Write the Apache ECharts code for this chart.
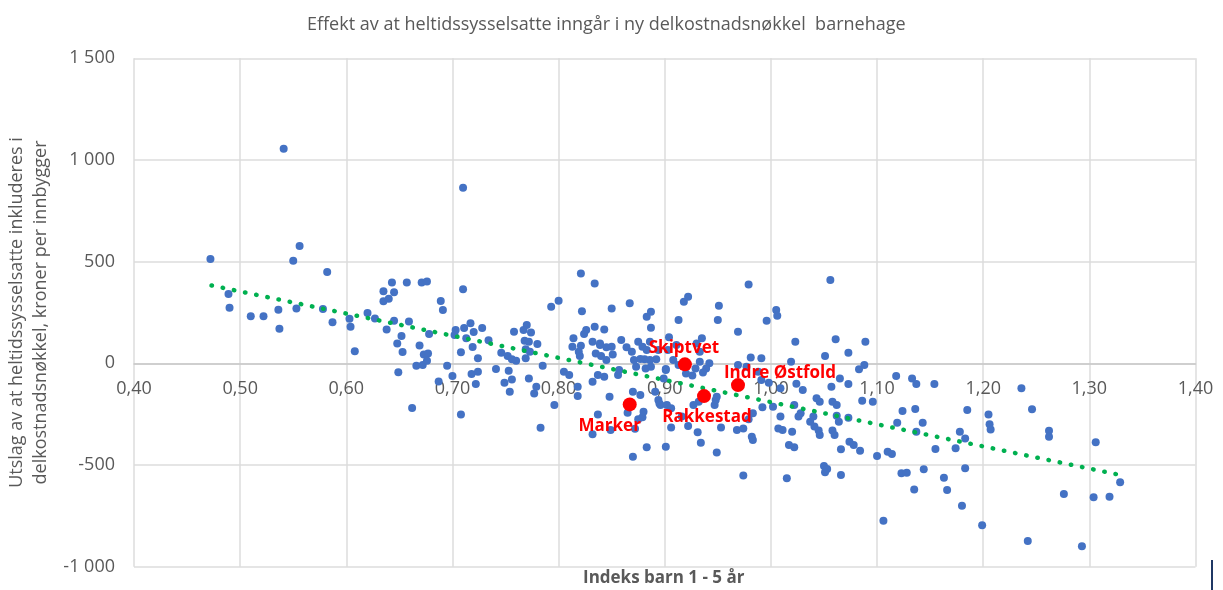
<!DOCTYPE html>
<html>
<head>
<meta charset="utf-8">
<script src="https://cdn.jsdelivr.net/npm/echarts@6/dist/echarts.min.js"></script>
<style>
  html, body { margin: 0; padding: 0; background: #fff; }
  #chart { width: 1223px; height: 590px; }
</style>
</head>
<body>
<div id="chart"></div>
<script>
// indeks barn 1-5 år, utslag kr per innbygger
const kommuner = [
  [0.472, 513], [0.489, 341], [0.490, 273], [0.510, 231], [0.522, 231], [0.536, 264],
  [0.537, 170], [0.541, 1055], [0.550, 505], [0.556, 577], [0.553, 270], [0.578, 267],
  [0.582, 449], [0.587, 202], [0.603, 219], [0.604, 180], [0.608, 60], [0.620, 247],
  [0.627, 221], [0.635, 354], [0.635, 305], [0.640, 318], [0.643, 398], [0.645, 349],
  [0.638, 167], [0.645, 209], [0.657, 398], [0.659, 206], [0.652, 134], [0.648, 98],
  [0.653, 56], [0.649, -44], [0.662, -220], [0.671, 398], [0.676, 403], [0.678, 144],
  [0.669, 88], [0.673, 44], [0.677, 49], [0.666, -12], [0.672, -8], [0.676, 13],
  [0.689, 306], [0.691, 262], [0.687, -89], [0.695, -12], [0.710, 863],
  [0.710, 364], [0.703, 164], [0.711, 174], [0.717, 197], [0.720, 154], [0.728, 174],
  [0.713, 123], [0.702, 139], [0.708, 54], [0.719, 80], [0.724, 25], [0.734, 113],
  [0.700, -62], [0.718, -53], [0.724, -41], [0.722, -102], [0.708, -251], [0.741, -28],
  [0.746, 52], [0.752, 36], [0.756, 20], [0.753, -36], [0.749, -95], [0.756, -79],
  [0.754, -140], [0.758, 155], [0.760, 13], [0.770, 188], [0.767, 164], [0.774, 152],
  [0.768, 111], [0.772, 106], [0.780, 95], [0.769, 69], [0.773, 57], [0.769, 25],
  [0.785, -12], [0.772, -74], [0.779, -115], [0.777, -148], [0.783, -317], [0.796, -205],
  [0.793, 278], [0.800, 308],
  [0.821, 442], [0.834, 393], [0.822, 256], [0.850, 270], [0.867, 295], [0.826, 164],
  [0.834, 180], [0.843, 167], [0.824, 144], [0.814, 123], [0.813, 82], [0.821, 87],
  [0.819, 57], [0.832, 106], [0.839, 90], [0.845, 79], [0.835, 49], [0.840, 36],
  [0.851, 44], [0.850, 82], [0.859, 115], [0.864, 79], [0.869, 57], [0.875, 106],
  [0.805, -41], [0.810, -57], [0.837, -57], [0.832, -90], [0.843, -66], [0.873, -17],
  [0.856, -57], [0.848, -164], [0.870, -140], [0.877, -156], [0.818, -115], [0.818, -161],
  [0.832, -349], [0.837, -251], [0.849, -328], [0.887, 254], [0.883, 229], [0.887, 175],
  [0.879, 82], [0.881, 20], [0.887, -17], [0.892, 20], [0.894, 65], [0.865, -243],
  [0.875, -275], [0.879, -265], [0.880, -238], [0.883, -413], [0.870, -459], [0.895, -197],
  [0.877, 21], [0.886, 16], [0.882, -25], [0.857, -33], [0.891, -140], [0.894, -180],
  [0.872, -322], [0.820, 36], [0.839, 98], [0.845, 16], [0.886, 106], [0.883, 65],
  [0.871, 16],
  [0.901, -28], [0.908, 16], [0.904, 128], [0.903, 65], [0.911, 90], [0.913, -8],
  [0.913, 213], [0.918, 303], [0.922, 327], [0.930, 98], [0.935, 123], [0.942, 0],
  [0.920, -50], [0.926, -60], [0.929, -25], [0.933, 8], [0.939, -25], [0.936, -45],
  [0.933, 57],
  [0.951, 283], [0.950, 213], [0.969, 155], [0.979, 388], [0.969, -8], [0.981, 29],
  [0.991, 25], [0.996, 209], [0.899, -74], [0.901, -33], [0.896, -205], [0.902, -205],
  [0.906, -221], [0.906, -315], [0.901, -410], [0.916, -262], [0.922, -308], [0.931, -339],
  [0.934, -390], [0.949, -439], [0.953, -315], [0.932, -189], [0.927, -205], [0.947, -205],
  [0.948, -180], [0.949, -164], [0.968, -328], [0.974, -320], [0.982, -361], [0.983, -377],
  [0.974, -551], [0.979, -275], [0.983, -246], [0.977, -17], [0.988, -41], [0.992, -216],
  [0.991, -82], [0.998, -95],
  [1.005, 262], [1.006, 234], [1.023, 106], [1.051, 36], [1.019, 8], [1.002, -213],
  [1.009, -262], [1.007, -320], [1.011, -328], [1.020, -336], [1.017, -402], [1.022, -413],
  [1.015, -565], [1.024, -100], [1.009, -123], [1.030, -131], [1.028, -246], [1.026, -262],
  [1.022, -205], [1.037, -287], [1.041, -310], [1.045, -330], [1.046, -352], [1.043, -172],
  [1.046, -189], [1.040, -262], [1.058, -330], [1.060, -352], [1.058, -189], [1.062, -205],
  [1.056, 410], [1.061, 119], [1.089, 106], [1.073, 52], [1.088, -8], [1.083, -29],
  [1.065, -74], [1.057, -115], [1.073, -102], [1.086, -184], [1.096, -189], [1.062, -258],
  [1.073, -267], [1.064, -287], [1.050, -505], [1.053, -520], [1.051, -535], [1.066, -549],
  [1.066, -423], [1.074, -385], [1.078, -402], [1.084, -430], [1.100, -456], [1.110, -435],
  [1.114, -446], [1.106, -774],
  [1.118, -62], [1.133, -74], [1.137, -102], [1.154, -102], [1.236, -123], [1.124, -234],
  [1.136, -225], [1.119, -292], [1.143, -292], [1.185, -230], [1.205, -251], [1.206, -300],
  [1.207, -325], [1.246, -226], [1.262, -331], [1.262, -361], [1.306, -388], [1.276, -642],
  [1.304, -659], [1.319, -656], [1.329, -585], [1.293, -900], [1.242, -874], [1.199, -796],
  [1.180, -700], [1.183, -516], [1.178, -336], [1.183, -369], [1.163, -562], [1.166, -623],
  [1.144, -521], [1.135, -620], [1.123, -541], [1.128, -538], [1.155, -421], [1.174, -418],
  [1.137, -336]
]

const markerteNavn = ['Skiptvet', 'Indre Østfold', 'Rakkestad', 'Marker']
const markerteX = [0.919, 0.969, 0.937, 0.867]
const markerteY = [-5, -107, -161, -202]
const etikettForskyvning = [[-1, -16], [42, -12], [3, 21], [-20, 22]]

const trendX = [0.473, 1.330]
const trendY = [383, -550]

const yMin = -1000
const yMax = 1500

const grey = '#595959'
const font = '"Open Sans", sans-serif'

const gridTop = 58.3
const gridBottom = 23.3
const chartHeight = 590

function formatY(value) {
  const abs = Math.abs(value)
  const text = abs >= 1000
    ? `${Math.floor(abs / 1000)} ${String(abs % 1000).padStart(3, '0')}`
    : String(abs)
  return (value < 0 ? '-' : '') + text
}

// x-aksen krysser ved 0: flytt aksen opp fra bunnen av plottet
const plotHeight = chartHeight - gridTop - gridBottom
const zeroOffset = -plotHeight * (0 - yMin) / (yMax - yMin)

const chart = echarts.init(document.getElementById('chart'))

chart.setOption({
  animation: false,
  textStyle: { fontFamily: font },
  title: [
    {
      text: 'Effekt av at heltidssysselsatte inngår i ny delkostnadsnøkkel  barnehage',
      left: 302,
      top: 11,
      textStyle: { color: grey, fontSize: 18, fontWeight: 'normal', fontFamily: font }
    },
    {
      text: 'Indeks barn 1 - 5 år',
      left: 583,
      top: 570,
      padding: 0,
      textStyle: { color: grey, fontSize: 17, fontWeight: 'bold', fontFamily: font }
    }
  ],
  grid: {
    left: 134,
    right: 27.5,
    top: gridTop,
    bottom: gridBottom,
    containLabel: false,
    outerBoundsMode: 'none'
  },
  xAxis: {
    type: 'value',
    min: 0.4,
    max: 1.4,
    interval: 0.1,
    offset: zeroOffset,
    axisLine: { onZero: false, lineStyle: { color: '#c8c8c8', width: 1.5 } },
    axisTick: { show: false },
    axisLabel: {
      color: grey,
      fontSize: 18,
      margin: 17,
      formatter: (v) => v.toFixed(2).replace('.', ',')
    },
    splitLine: { show: true, lineStyle: { color: '#dcdcdc', width: 1.5 } }
  },
  yAxis: {
    type: 'value',
    min: yMin,
    max: yMax,
    interval: 500,
    name: 'Utslag av at heltidssysselsatte inkluderes i\ndelkostnadsnøkkel, kroner per innbygger',
    nameLocation: 'middle',
    nameRotate: 90,
    nameGap: 77,
    nameTextStyle: { color: grey, fontSize: 18, lineHeight: 24, fontFamily: font },
    axisLine: { show: false },
    axisTick: { show: false },
    axisLabel: { color: grey, fontSize: 18, margin: 19, formatter: formatY },
    splitLine: { lineStyle: { color: '#dcdcdc', width: 1.5 } }
  },
  series: [
    {
      name: 'Kommuner',
      type: 'scatter',
      symbolSize: 8,
      itemStyle: { color: '#4472C4', opacity: 1 },
      data: kommuner,
      z: 2
    },
    {
      name: 'Trend',
      type: 'line',
      symbol: 'none',
      silent: true,
      lineStyle: { color: '#00B050', width: 4.5, type: [0.5, 10.9], cap: 'round' },
      data: trendX.map((x, i) => [x, trendY[i]]),
      z: 3
    },
    {
      name: 'Markerte',
      type: 'scatter',
      symbolSize: 14,
      itemStyle: { color: '#FF0000', opacity: 1 },
      label: {
        show: true,
        position: 'inside',
        color: '#FF0000',
        fontSize: 17,
        fontWeight: 'bold',
        fontFamily: font,
        formatter: (p) => p.name
      },
      data: markerteNavn.map((navn, i) => ({
        name: navn,
        value: [markerteX[i], markerteY[i]],
        label: { offset: etikettForskyvning[i] }
      })),
      z: 4
    }
  ],
  graphic: [
    {
      type: 'rect',
      shape: { x: 1211, y: 560, width: 2, height: 30 },
      style: { fill: '#1f3864' }
    }
  ]
})

window.addEventListener('resize', () => chart.resize())
</script>
</body>
</html>
